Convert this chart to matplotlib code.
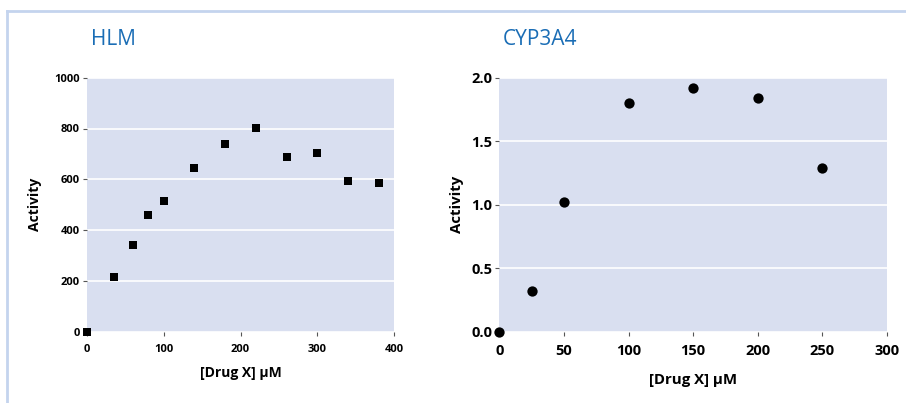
import matplotlib
matplotlib.use('Agg')
import matplotlib.pyplot as plt
from matplotlib.lines import Line2D

plt.rcParams['font.family'] = ['Open Sans', 'DejaVu Sans']

# HLM data (squares)
hlm_x = [0, 35, 60, 80, 100, 140, 180, 220, 260, 300, 340, 380]
hlm_y = [0, 215, 341, 459, 514, 644, 739, 801, 689, 703, 593, 587]

# CYP3A4 data (circles)
cyp_x = [0, 25, 50, 100, 150, 200, 250]
cyp_y = [0.0, 0.32, 1.02, 1.80, 1.92, 1.84, 1.29]

hlm_yticks = [0, 200, 400, 600, 800, 1000]
hlm_xticks = [0, 100, 200, 300, 400]
cyp_yticks = [0.0, 0.5, 1.0, 1.5, 2.0]
cyp_xticks = [0, 50, 100, 150, 200, 250, 300]

bg = '#d9dff0'
title_col = '#1a6db5'
frame_col = '#c4d4ee'

W, H = 906, 403
fig = plt.figure(figsize=(W / 100, H / 100), dpi=100)


def px(x0, y_top, x1, y_bot):
    return [x0 / W, 1 - y_bot / H, (x1 - x0) / W, (y_bot - y_top) / H]


def style(ax, xticks, yticks, ticksize, labsize, xpad, ypad):
    ax.set_facecolor(bg)
    for s in ax.spines.values():
        s.set_visible(False)
    ax.set_xticks(xticks)
    ax.set_yticks(yticks)
    ax.set_xlim(xticks[0], xticks[-1])
    ax.set_ylim(yticks[0], yticks[-1])
    ax.tick_params(axis='both', length=3, width=0.8, color='#555555',
                   labelsize=ticksize, pad=2)
    ax.tick_params(axis='x', pad=5.5)
    for lab in ax.get_xticklabels() + ax.get_yticklabels():
        lab.set_fontweight('bold')
    ax.grid(axis='y', color='white', linewidth=1.2)
    ax.set_axisbelow(True)
    ax.set_xlabel('[Drug X] μM', fontsize=labsize, fontweight='bold', labelpad=xpad)
    ax.set_ylabel('Activity', fontsize=labsize, fontweight='bold', labelpad=ypad)


ax1 = fig.add_axes(px(86.7, 77.7, 394.3, 331.7))
style(ax1, hlm_xticks, hlm_yticks, 8, 10, 8, 9)
ax1.yaxis.set_major_formatter(matplotlib.ticker.FormatStrFormatter('%d'))
ax1.scatter(hlm_x, hlm_y, marker='s', s=38, color='black', zorder=3,
            clip_on=False, linewidths=0)

ax2 = fig.add_axes(px(499.3, 77.7, 887, 331.7))
style(ax2, cyp_xticks, cyp_yticks, 10.5, 10.8, 11, 5)
ax2.yaxis.set_major_formatter(matplotlib.ticker.FormatStrFormatter('%.1f'))
ax2.scatter(cyp_x, cyp_y, marker='o', s=55, color='black', zorder=3,
            clip_on=False, linewidths=0)

fig.text(91 / W, 1 - 45 / H, 'HLM', color=title_col, fontsize=15,
         ha='left', va='baseline')
fig.text(503 / W, 1 - 45 / H, 'CYP3A4', color=title_col, fontsize=15,
         ha='left', va='baseline')

# light blue frame
fig.add_artist(Line2D([7 / W, 1.0], [1 - 11 / H, 1 - 11 / H],
                      transform=fig.transFigure, color=frame_col, linewidth=2))
fig.add_artist(Line2D([7 / W, 7 / W], [1 - 11 / H, 0],
                      transform=fig.transFigure, color=frame_col, linewidth=2))

fig.savefig('out.png', dpi=100)
